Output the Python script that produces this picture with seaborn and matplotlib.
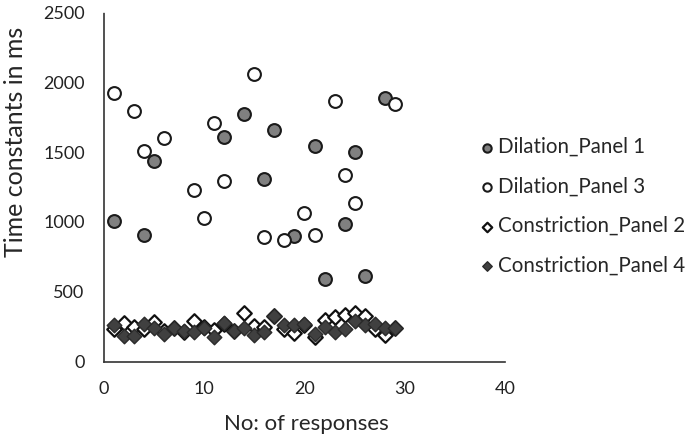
import numpy as np
import pandas as pd
import matplotlib
matplotlib.use('Agg')
import matplotlib.pyplot as plt
import seaborn as sns

# Dilation_Panel 1 (grey filled circles)
dil1_x = [1, 4, 5, 12, 14, 16, 17, 19, 21, 22, 24, 25, 26, 28]
dil1_y = [1005, 905, 1435, 1605, 1775, 1305, 1655, 898, 1545, 595, 988, 1500, 615, 1890]

# Dilation_Panel 3 (open circles)
dil3_x = [1, 3, 4, 6, 9, 10, 11, 12, 15, 16, 18, 20, 21, 23, 24, 25, 29]
dil3_y = [1920, 1795, 1508, 1602, 1229, 1026, 1706, 1292, 2055, 890, 869, 1064, 909, 1862, 1333, 1138, 1846]

# Constriction_Panel 2 (open diamonds)
con2_x = list(range(1, 30))
con2_y = [233, 276, 248, 233, 288, 222, 240, 215, 293, 252, 229, 270, 220, 352, 257,
          248, 325, 233, 205, 265, 181, 300, 319, 336, 348, 329, 233, 193, 245]

# Constriction_Panel 4 (dark filled diamonds)
con4_x = list(range(1, 30))
con4_y = [260, 188, 188, 271, 240, 200, 245, 217, 212, 245, 181, 281, 217, 245, 193,
          210, 329, 264, 260, 269, 200, 252, 210, 236, 295, 260, 271, 240, 245]

labels = ['Dilation_Panel 1', 'Dilation_Panel 3', 'Constriction_Panel 2', 'Constriction_Panel 4']

sns.set_style('white')
plt.rcParams['font.family'] = ['Lato', 'DejaVu Sans']

fig = plt.figure(figsize=(6.85, 4.37), dpi=100)
ax = fig.add_axes([0.152, 0.172, 0.585, 0.80])

sns.scatterplot(x=dil1_x, y=dil1_y, ax=ax, marker='o', s=85, color='#808080',
                edgecolor='#1a1a1a', linewidth=1.5, label=labels[0], zorder=3)
sns.scatterplot(x=dil3_x, y=dil3_y, ax=ax, marker='o', s=85, color='white',
                edgecolor='#1a1a1a', linewidth=1.5, label=labels[1], zorder=3)
sns.scatterplot(x=con2_x, y=con2_y, ax=ax, marker='D', s=55, color='white',
                edgecolor='#111111', linewidth=1.6, label=labels[2], zorder=3)
sns.scatterplot(x=con4_x, y=con4_y, ax=ax, marker='D', s=55, color='#404040',
                edgecolor='#2a2a2a', linewidth=1.0, label=labels[3], zorder=3)

ax.set_xlim(0, 40)
ax.set_ylim(0, 2500)
ax.set_xticks(range(0, 41, 10))
ax.set_yticks(range(0, 2501, 500))
ax.tick_params(axis='y', length=0, labelsize=13, colors='#222222', pad=14)
ax.tick_params(axis='x', length=0, labelsize=13, colors='#222222', pad=14)
ax.set_xlabel('No: of responses', fontsize=16)
ax.set_ylabel('Time constants in ms', fontsize=18)
ax.xaxis.set_label_coords(0.504, -0.148)
ax.yaxis.set_label_coords(-0.193, 0.63)

for side in ['top', 'right']:
    ax.spines[side].set_visible(False)
for side in ['left', 'bottom']:
    ax.spines[side].set_linestyle((0, (1, 1)))
    ax.spines[side].set_color('#333333')
    ax.spines[side].set_linewidth(1.2)

ax.legend(loc='center left', bbox_to_anchor=(0.88, 0.445), frameon=False, fontsize=14.8,
          markerscale=0.65, handletextpad=0.0, labelspacing=0.95, handlelength=1.1)

fig.savefig('out.png', dpi=100)
